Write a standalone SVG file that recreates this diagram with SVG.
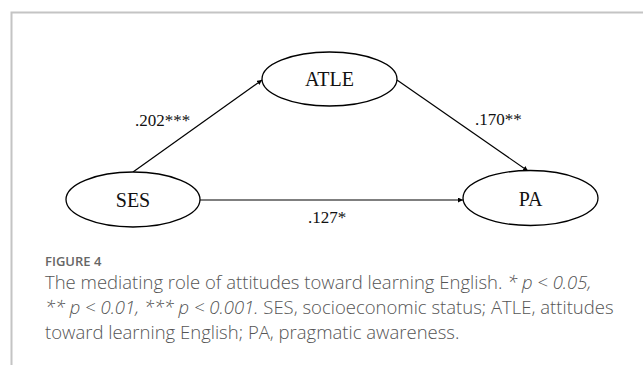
<svg xmlns="http://www.w3.org/2000/svg" width="643" height="365" viewBox="0 0 643 365">
<style>
.node{fill:#fff;stroke:#000;stroke-width:1.3}
.nt{font-family:"Liberation Serif",serif;font-size:20px;fill:#111;text-anchor:middle}
.el{font-family:"Liberation Serif",serif;font-size:17px;fill:#111}
.edge{stroke:#000;stroke-width:1.2;fill:none}
.cap{font-family:"Open Sans",sans-serif;font-size:18.5px;fill:#555;font-weight:300}
.fig{font-family:"Open Sans",sans-serif;font-size:13px;fill:#666;font-weight:600}
</style>
<defs>
<marker id="ah" viewBox="0 0 10 10" refX="10" refY="5" markerWidth="5" markerHeight="5" orient="auto" markerUnits="userSpaceOnUse">
<path d="M0,0 L10,5 L0,10 z" fill="#000"/>
</marker>
</defs>
<rect width="643" height="365" fill="#fff"/>
<path d="M11.5,365 V12.5 H643" stroke="#c4c4c4" stroke-width="2" fill="none"/>
<g id="connectors">
<line class="edge" x1="133" y1="172" x2="262" y2="80" marker-end="url(#ah)"/>
<line class="edge" x1="397" y1="80" x2="528" y2="171" marker-end="url(#ah)"/>
<line class="edge" x1="200" y1="200" x2="463" y2="200" marker-end="url(#ah)"/>
<text class="el" x="135" y="126">.202***</text>
<text class="el" x="475" y="125">.170**</text>
<text class="el" x="308" y="223">.127*</text>
</g>
<g id="node-atle">
<ellipse class="node" cx="329.5" cy="79" rx="67.5" ry="27"/>
<text class="nt" x="329.5" y="86">ATLE</text>
</g>
<g id="node-ses">
<ellipse class="node" cx="133" cy="199.5" rx="67" ry="27.5"/>
<text class="nt" x="133" y="207">SES</text>
</g>
<g id="node-pa">
<ellipse class="node" cx="530.5" cy="198" rx="67.5" ry="27.5"/>
<text class="nt" x="530.5" y="206">PA</text>
</g>
<g id="caption">
<text class="fig" x="45" y="266">FIGURE 4</text>
<text class="cap" x="45" y="289">The mediating role of attitudes toward learning English. <tspan font-style="italic">* p &lt; 0.05,</tspan></text>
<text class="cap" x="45" y="314"><tspan font-style="italic">** p &lt; 0.01, *** p &lt; 0.001.</tspan> SES, socioeconomic status; ATLE, attitudes</text>
<text class="cap" x="45" y="339">toward learning English; PA, pragmatic awareness.</text>
</g>
</svg>
